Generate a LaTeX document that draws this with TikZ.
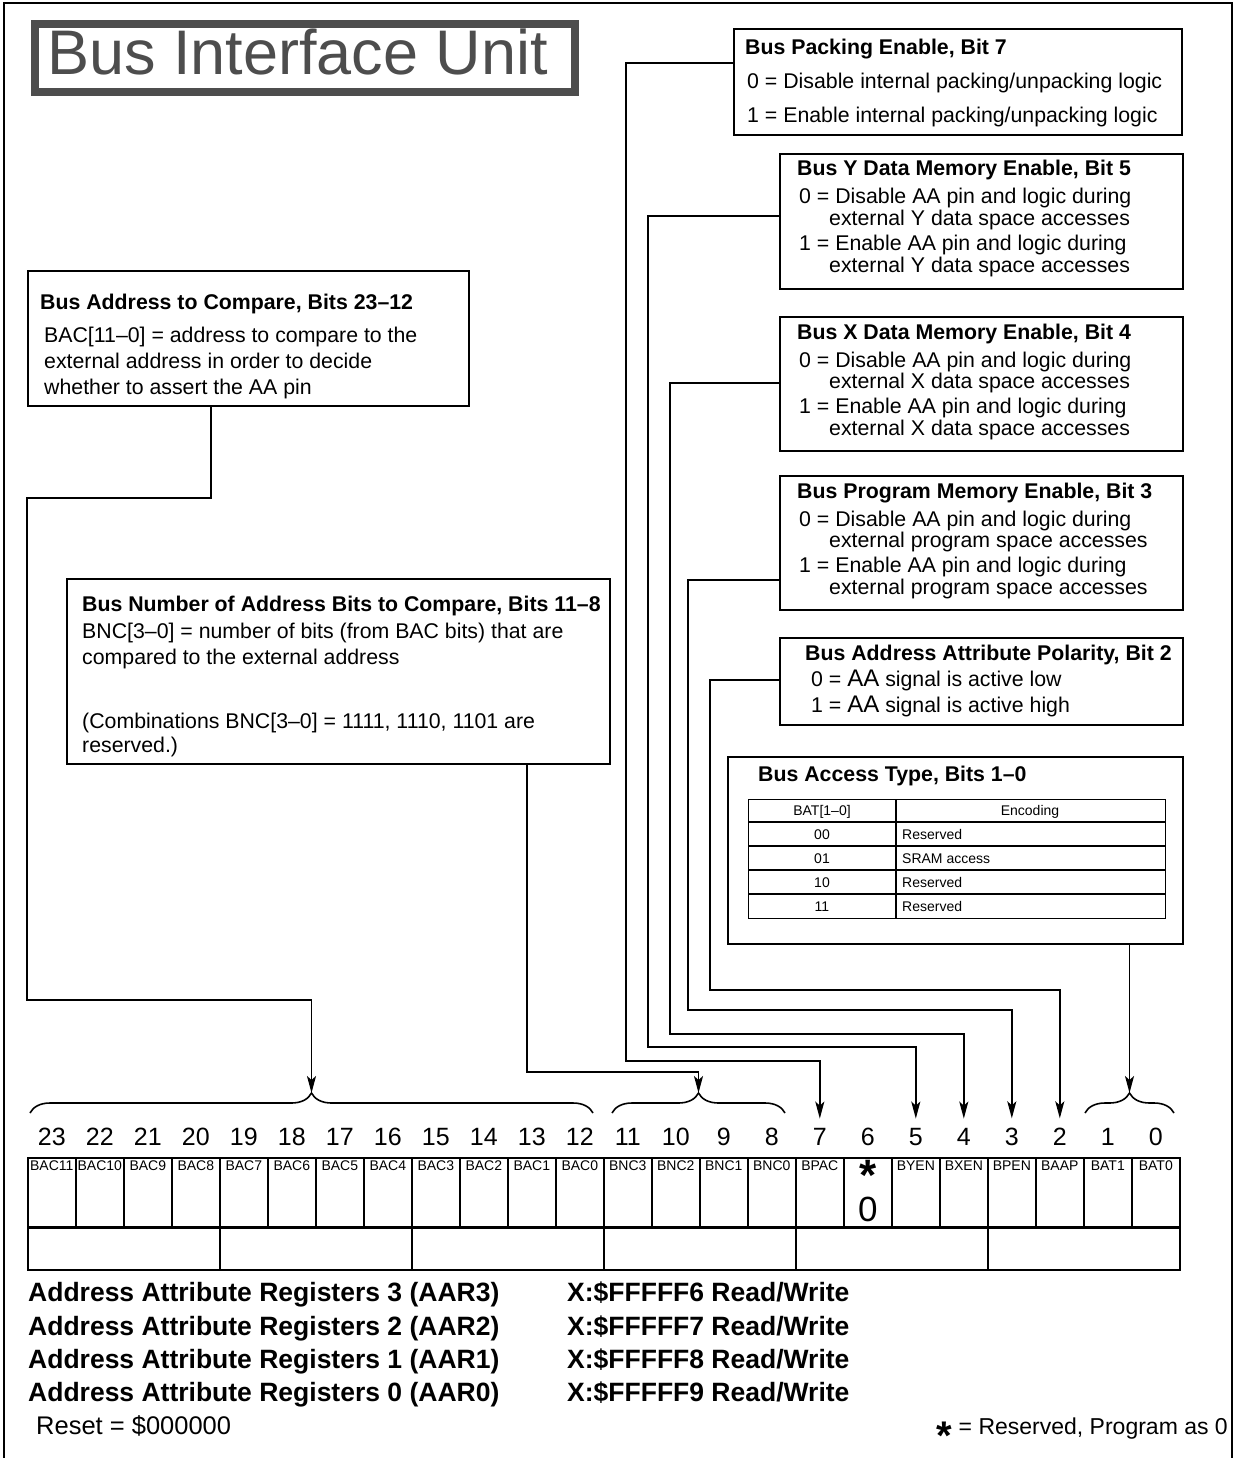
\documentclass[tikz,border=0pt]{standalone}
\usepackage{fontspec}
\setmainfont{Liberation Sans}
\usetikzlibrary{arrows.meta,decorations.pathreplacing}
\definecolor{titlegray}{RGB}{77,77,77}
\newcommand\fsz[1]{\fontsize{#1}{#1}\selectfont}
\begin{document}
\begin{tikzpicture}[x=1pt,y=-1pt,
  outerframe/.style={line width=1.8pt},
  infobox/.style={draw, line width=1.8pt, inner sep=0pt, anchor=north west},
  txt/.style={anchor=base west, inner sep=0pt, font=\fsz{21.3}},
  ttl/.style={anchor=base west, inner sep=0pt, font=\fsz{21.3}\bfseries},
  conn/.style={line width=1.8pt},
  arr/.style={conn, -{Stealth[length=17pt, width=9pt, inset=4pt]}},
  cell/.style={draw, line width=1.6pt, inner sep=0pt, anchor=north west, minimum width=48pt, minimum height=69pt},
  grp/.style={draw, line width=1.6pt, inner sep=0pt, anchor=north west, minimum width=192pt, minimum height=43pt},
  num/.style={anchor=base, inner sep=0pt, font=\fsz{25}},
  lbl/.style={anchor=base, inner sep=0pt, font=\fsz{14}},
  tbl/.style={anchor=base, inner sep=0pt, font=\fsz{14}},
  tbll/.style={anchor=base west, inner sep=0pt, font=\fsz{14}},
  btxt/.style={anchor=base west, inner sep=0pt, font=\fsz{26.5}\bfseries},
  brc/.style={decorate, decoration={brace, amplitude=20pt}, line width=1.6pt},
]
\useasboundingbox (0,0) rectangle (1234,1458);

% outer frame
\draw[outerframe] (4,1458) -- (4,3) -- (1232,3) -- (1232,1458);

% title
\node[draw=titlegray, line width=8pt, inner sep=0pt, anchor=north west, minimum width=540pt, minimum height=68pt] (titlebox) at (31,20) {};
\node[anchor=base west, inner sep=0pt, text=titlegray, font=\fsz{63}] (title) at (47,75) {Bus Interface Unit};

% Bus Packing Enable box
\node[infobox, minimum width=448pt, minimum height=106pt] (boxA) at (733,28) {};
\node[ttl] (boxAt) at (745,55) {Bus Packing Enable, Bit 7};
\node[txt] (boxA1) at (747,89) {0 = Disable internal packing/unpacking logic};
\node[txt] (boxA2) at (747,123) {1 = Enable internal packing/unpacking logic};

% Bus Y
\node[infobox, minimum width=403pt, minimum height=135pt] (boxY) at (779,153) {};
\node[ttl] (boxYt) at (797,176) {Bus Y Data Memory Enable, Bit 5};
\node[txt] (boxY1) at (799,204) {0 = Disable AA pin and logic during};
\node[txt] (boxY2) at (829,225) {external Y data space accesses};
\node[txt] (boxY3) at (799,250) {1 = Enable AA pin and logic during};
\node[txt] (boxY4) at (829,272) {external Y data space accesses};

% Bus X
\node[infobox, minimum width=403pt, minimum height=134pt] (boxX) at (779,316) {};
\node[ttl] (boxXt) at (797,339) {Bus X Data Memory Enable, Bit 4};
\node[txt] (boxX1) at (799,367) {0 = Disable AA pin and logic during};
\node[txt] (boxX2) at (829,388) {external X data space accesses};
\node[txt] (boxX3) at (799,413) {1 = Enable AA pin and logic during};
\node[txt] (boxX4) at (829,435) {external X data space accesses};

% Bus Program
\node[infobox, minimum width=403pt, minimum height=134pt] (boxP) at (779,475) {};
\node[ttl] (boxPt) at (797,498) {Bus Program Memory Enable, Bit 3};
\node[txt] (boxP1) at (799,526) {0 = Disable AA pin and logic during};
\node[txt] (boxP2) at (829,547) {external program space accesses};
\node[txt] (boxP3) at (799,572) {1 = Enable AA pin and logic during};
\node[txt] (boxP4) at (829,594) {external program space accesses};

% Bus Address Attribute Polarity
\node[infobox, minimum width=403pt, minimum height=87pt] (boxAAP) at (779,637) {};
\node[ttl] (boxAAPt) at (805,660) {Bus Address Attribute Polarity, Bit 2};
\node[txt] (boxAAP1) at (811,686) {0 = {\fsz{24}AA} signal is active low};
\node[txt] (boxAAP2) at (811,712) {1 = {\fsz{24}AA} signal is active high};

% Bus Access Type
\node[infobox, minimum width=455pt, minimum height=187pt] (boxBAT) at (727,756) {};
\node[ttl] (boxBATt) at (758,781) {Bus Access Type, Bits 1–0};
\node[draw, line width=1.4pt, inner sep=0pt, anchor=north west, minimum width=417pt, minimum height=119pt] (battable) at (748,799) {};
\foreach \yy in {822,846,870,894} \draw[line width=1.4pt] (battable.west |- 0,\yy) -- (battable.east |- 0,\yy);
\draw[line width=1.4pt] (896,0 |- battable.north) -- (896,0 |- battable.south);
\node[tbl] (th1) at (822,815.5) {BAT[1–0]};
\node[tbl] (th2) at (1030,815.5) {Encoding};
\node[tbl] (tr1a) at (822,839.5) {00};
\node[tbll] (tr1b) at (902,839.5) {Reserved};
\node[tbl] (tr2a) at (822,863.5) {01};
\node[tbll] (tr2b) at (902,863.5) {SRAM access};
\node[tbl] (tr3a) at (822,887.5) {10};
\node[tbll] (tr3b) at (902,887.5) {Reserved};
\node[tbl] (tr4a) at (822,911.5) {11};
\node[tbll] (tr4b) at (902,911.5) {Reserved};

% Bus Address to Compare
\node[infobox, minimum width=441pt, minimum height=135pt] (bacbox) at (27,270) {};
\node[ttl] (bact) at (40,309) {Bus Address to Compare, Bits 23–12};
\node[txt] (bac1) at (44,342) {BAC[11–0] = address to compare to the};
\node[txt] (bac2) at (44,368) {external address in order to decide};
\node[txt] (bac3) at (44,394) {whether to assert the AA pin};

% Bus Number of Address Bits
\node[infobox, minimum width=543pt, minimum height=185pt] (bncbox) at (66,578) {};
\node[ttl] (bnct) at (82,611) {Bus Number of Address Bits to Compare, Bits 11–8};
\node[txt] (bnc1) at (82,638) {BNC[3–0] = number of bits (from BAC bits) that are};
\node[txt] (bnc2) at (82,664) {compared to the external address};
\node[txt] (bnc3) at (82,728) {(Combinations BNC[3–0] = 1111, 1110, 1101 are};
\node[txt] (bnc4) at (82,752) {reserved.)};

% register cells
\foreach \b in {0,...,23}{
  \node[cell] (c\b) at ({27+48*(23-\b)},1157) {};
  \node[num] (n\b) at ([yshift=12pt]c\b.north) {\b};
}
\foreach \b/\t in {23/BAC11,22/BAC10,21/BAC9,20/BAC8,19/BAC7,18/BAC6,17/BAC5,16/BAC4,15/BAC3,14/BAC2,13/BAC1,12/BAC0,11/BNC3,10/BNC2,9/BNC1,8/BNC0,7/BPAC,5/BYEN,4/BXEN,3/BPEN,2/BAAP,1/BAT1,0/BAT0}{
  \node[lbl] (l\b) at ([yshift=-13pt]c\b.north) {\t};
}
\node[anchor=base, inner sep=0pt, font=\fsz{35}] (res6) at ([yshift=-64pt]c6.north)
  {\ooalign{\hfil\raisebox{31pt}{\fsz{44}\bfseries *}\hfil\cr 0\cr}};
\foreach \j in {0,...,5} \node[grp] (g\j) at ({27+192*\j},1226) {};
\draw[line width=3.2pt] (c23.south west) -- (c0.south east);

% braces
\draw[brc] (30,1113) -- (593,1113);
\draw[brc] (612,1113) -- (785,1113);
\draw[brc] (1085,1113) -- (1174,1113);
\coordinate (tipBAC) at (311.5,1093);
\coordinate (tipBNC) at (698.5,1093);
\coordinate (tipBAT) at (1129.5,1093);

% connectors
\draw[arr] (211,0 |- bacbox.south) -- (211,498) -- (27,498) -- (27,1000) -- (311.5,1000) -- (tipBAC);
\draw[arr] (527,0 |- bncbox.south) -- (527,1072) -- (698.5,1072) -- (tipBNC);
\draw[arr] (boxA.west |- 0,63) -- (626,63) -- (626,1061) -- (c7.center |- 0,1061) -- ([yshift=9pt]n7.north);
\draw[arr] (boxY.west |- 0,216) -- (648,216) -- (648,1047) -- (c5.center |- 0,1047) -- ([yshift=9pt]n5.north);
\draw[arr] (boxX.west |- 0,383) -- (670,383) -- (670,1034) -- (c4.center |- 0,1034) -- ([yshift=9pt]n4.north);
\draw[arr] (boxP.west |- 0,580) -- (688,580) -- (688,1010) -- (c3.center |- 0,1010) -- ([yshift=9pt]n3.north);
\draw[arr] (boxAAP.west |- 0,680) -- (710,680) -- (710,990) -- (c2.center |- 0,990) -- ([yshift=9pt]n2.north);
\draw[arr] (1129.5,0 |- boxBAT.south) -- (tipBAT);

% bottom text
\node[btxt] (r3) at (28,1301) {Address Attribute Registers 3 (AAR3)};
\node[btxt] (r2) at (28,1335) {Address Attribute Registers 2 (AAR2)};
\node[btxt] (r1) at (28,1368) {Address Attribute Registers 1 (AAR1)};
\node[btxt] (r0) at (28,1401) {Address Attribute Registers 0 (AAR0)};
\node[btxt] (a3) at (567,1301) {X:\$FFFFF6 Read/Write};
\node[btxt] (a2) at (567,1335) {X:\$FFFFF7 Read/Write};
\node[btxt] (a1) at (567,1368) {X:\$FFFFF8 Read/Write};
\node[btxt] (a0) at (567,1401) {X:\$FFFFF9 Read/Write};
\node[anchor=base west, inner sep=0pt, font=\fsz{25.5}] (reset) at (36,1434) {Reset = \$000000};
\node[anchor=base east, inner sep=0pt, font=\fsz{23}] (legend) at (1228,1434) {= Reserved, Program as 0};
\node[anchor=base, inner sep=0pt, font=\fsz{40}\bfseries] (legstar) at (944,1449) {*};
\end{tikzpicture}
\end{document}
